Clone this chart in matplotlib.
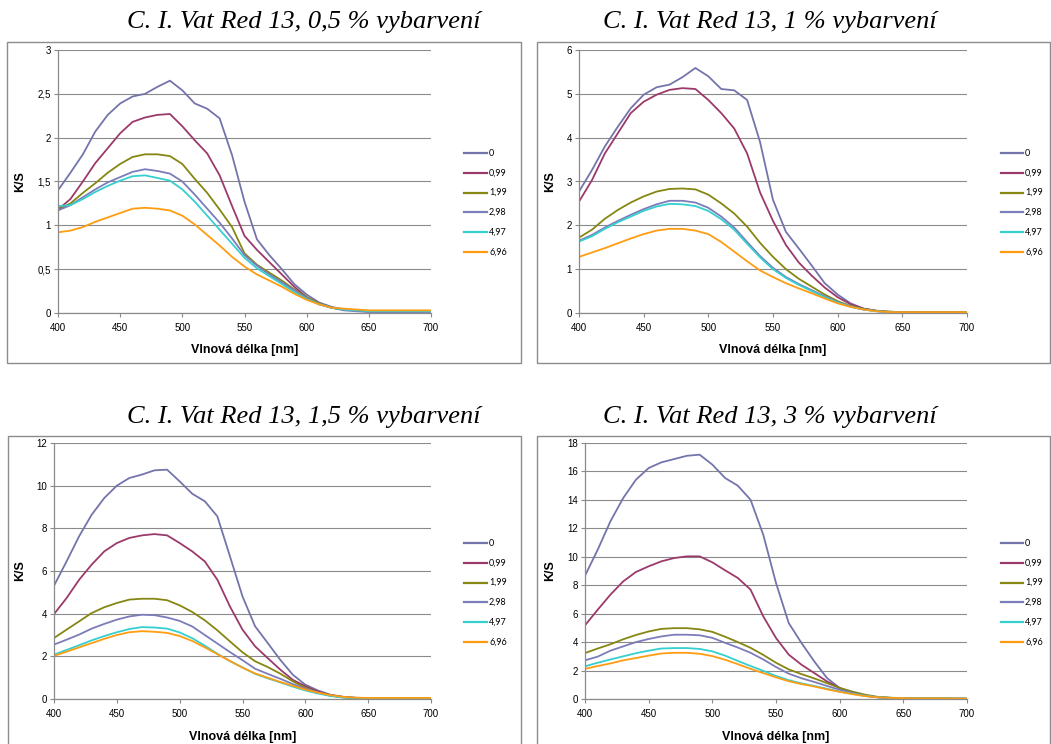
import matplotlib
matplotlib.use("Agg")
import matplotlib.pyplot as plt
from matplotlib.patches import Rectangle
from matplotlib.lines import Line2D
from matplotlib.ticker import FuncFormatter, MultipleLocator

W, H = 1051, 744

wavelength = list(range(400, 701, 10))
series_labels = ["0", "0,99", "1,99", "2,98", "4,97", "6,96"]
series_colors = ["#7474AC", "#9B3A6A", "#868613", "#7C7CBA", "#35CFCF", "#FF9C11"]

titles = [
    "C. I. Vat Red 13, 0,5 % vybarvení",
    "C. I. Vat Red 13, 1 % vybarvení",
    "C. I. Vat Red 13, 1,5 % vybarvení",
    "C. I. Vat Red 13, 3 % vybarvení",
]
y_max = [3, 6, 12, 18]
y_step = [0.5, 1, 2, 2]

# K/S spectra, 0,5 % dyeing
ks_05 = [
    [1.40, 1.60, 1.81, 2.07, 2.26, 2.39, 2.47, 2.50, 2.58, 2.65, 2.54, 2.39, 2.33, 2.22, 1.80, 1.27, 0.84, 0.66, 0.50, 0.33, 0.21, 0.12, 0.07, 0.04, 0.03, 0.02, 0.02, 0.02, 0.02, 0.02, 0.02],
    [1.18, 1.30, 1.50, 1.71, 1.88, 2.05, 2.18, 2.23, 2.26, 2.27, 2.13, 1.97, 1.82, 1.57, 1.22, 0.88, 0.72, 0.58, 0.44, 0.30, 0.18, 0.10, 0.06, 0.04, 0.03, 0.02, 0.02, 0.02, 0.02, 0.02, 0.02],
    [1.18, 1.25, 1.37, 1.48, 1.60, 1.70, 1.78, 1.81, 1.81, 1.79, 1.70, 1.53, 1.37, 1.18, 0.98, 0.68, 0.55, 0.46, 0.37, 0.27, 0.18, 0.11, 0.06, 0.04, 0.03, 0.02, 0.02, 0.02, 0.02, 0.02, 0.02],
    [1.17, 1.23, 1.32, 1.41, 1.49, 1.55, 1.61, 1.64, 1.62, 1.59, 1.50, 1.35, 1.19, 1.03, 0.85, 0.66, 0.54, 0.44, 0.35, 0.26, 0.17, 0.10, 0.06, 0.03, 0.02, 0.01, 0.01, 0.01, 0.01, 0.01, 0.01],
    [1.22, 1.23, 1.30, 1.38, 1.45, 1.51, 1.56, 1.57, 1.54, 1.51, 1.41, 1.27, 1.11, 0.95, 0.79, 0.63, 0.51, 0.42, 0.33, 0.24, 0.16, 0.10, 0.06, 0.04, 0.03, 0.02, 0.02, 0.02, 0.02, 0.02, 0.02],
    [0.92, 0.94, 0.98, 1.04, 1.09, 1.14, 1.19, 1.20, 1.19, 1.17, 1.11, 1.01, 0.89, 0.77, 0.64, 0.53, 0.44, 0.37, 0.30, 0.22, 0.15, 0.10, 0.06, 0.05, 0.04, 0.03, 0.03, 0.03, 0.03, 0.03, 0.03],
]

# K/S spectra, 1 % dyeing
ks_1 = [
    [2.77, 3.26, 3.80, 4.25, 4.67, 4.98, 5.15, 5.21, 5.38, 5.59, 5.40, 5.11, 5.08, 4.86, 3.90, 2.58, 1.85, 1.47, 1.08, 0.68, 0.42, 0.22, 0.10, 0.05, 0.03, 0.02, 0.02, 0.02, 0.02, 0.02, 0.02],
    [2.54, 3.03, 3.64, 4.10, 4.56, 4.82, 4.98, 5.09, 5.13, 5.11, 4.86, 4.56, 4.21, 3.64, 2.75, 2.10, 1.55, 1.15, 0.85, 0.58, 0.36, 0.20, 0.10, 0.05, 0.02, 0.02, 0.01, 0.01, 0.01, 0.01, 0.01],
    [1.72, 1.90, 2.15, 2.35, 2.52, 2.66, 2.77, 2.83, 2.84, 2.82, 2.70, 2.50, 2.27, 1.97, 1.60, 1.28, 1.00, 0.78, 0.60, 0.42, 0.27, 0.16, 0.09, 0.05, 0.03, 0.02, 0.02, 0.02, 0.02, 0.02, 0.02],
    [1.65, 1.78, 1.95, 2.10, 2.24, 2.37, 2.48, 2.56, 2.56, 2.52, 2.40, 2.20, 1.95, 1.62, 1.30, 1.03, 0.82, 0.66, 0.52, 0.38, 0.25, 0.15, 0.08, 0.04, 0.02, 0.01, 0.01, 0.01, 0.01, 0.01, 0.01],
    [1.63, 1.75, 1.92, 2.07, 2.20, 2.33, 2.43, 2.49, 2.48, 2.44, 2.33, 2.14, 1.90, 1.58, 1.27, 1.00, 0.80, 0.64, 0.50, 0.36, 0.24, 0.14, 0.08, 0.04, 0.02, 0.01, 0.01, 0.01, 0.01, 0.01, 0.01],
    [1.28, 1.38, 1.48, 1.59, 1.70, 1.80, 1.88, 1.92, 1.92, 1.88, 1.80, 1.62, 1.40, 1.18, 0.97, 0.82, 0.68, 0.56, 0.45, 0.33, 0.22, 0.14, 0.08, 0.04, 0.02, 0.02, 0.02, 0.02, 0.02, 0.02, 0.02],
]

# K/S spectra, 1,5 % dyeing
ks_15 = [
    [5.31, 6.45, 7.63, 8.64, 9.42, 10.00, 10.36, 10.52, 10.72, 10.75, 10.20, 9.62, 9.27, 8.56, 6.69, 4.81, 3.41, 2.63, 1.84, 1.14, 0.67, 0.40, 0.20, 0.10, 0.06, 0.04, 0.03, 0.03, 0.03, 0.03, 0.03],
    [3.98, 4.73, 5.59, 6.30, 6.92, 7.31, 7.55, 7.67, 7.73, 7.67, 7.31, 6.92, 6.45, 5.59, 4.34, 3.25, 2.47, 1.92, 1.38, 0.90, 0.60, 0.35, 0.18, 0.10, 0.05, 0.03, 0.03, 0.03, 0.03, 0.02, 0.00],
    [2.86, 3.25, 3.64, 4.03, 4.30, 4.50, 4.66, 4.70, 4.70, 4.63, 4.39, 4.08, 3.69, 3.22, 2.70, 2.19, 1.77, 1.50, 1.19, 0.83, 0.52, 0.30, 0.16, 0.08, 0.05, 0.04, 0.04, 0.04, 0.04, 0.04, 0.04],
    [2.55, 2.78, 3.02, 3.30, 3.52, 3.72, 3.87, 3.95, 3.93, 3.82, 3.66, 3.40, 3.00, 2.60, 2.20, 1.82, 1.42, 1.18, 0.95, 0.70, 0.48, 0.30, 0.16, 0.08, 0.05, 0.04, 0.04, 0.04, 0.04, 0.04, 0.04],
    [2.08, 2.30, 2.52, 2.75, 2.95, 3.13, 3.28, 3.37, 3.35, 3.30, 3.12, 2.85, 2.50, 2.12, 1.78, 1.48, 1.18, 0.97, 0.78, 0.58, 0.40, 0.26, 0.14, 0.07, 0.04, 0.03, 0.03, 0.03, 0.03, 0.03, 0.03],
    [2.02, 2.22, 2.42, 2.62, 2.82, 3.00, 3.13, 3.18, 3.15, 3.10, 2.95, 2.72, 2.42, 2.10, 1.78, 1.47, 1.20, 1.00, 0.80, 0.62, 0.44, 0.30, 0.18, 0.10, 0.06, 0.05, 0.05, 0.05, 0.05, 0.05, 0.05],
]

# K/S spectra, 3 % dyeing
ks_3 = [
    [8.67, 10.50, 12.50, 14.13, 15.42, 16.24, 16.64, 16.87, 17.10, 17.18, 16.48, 15.54, 15.00, 14.01, 11.55, 8.16, 5.34, 3.94, 2.65, 1.48, 0.77, 0.42, 0.22, 0.12, 0.08, 0.05, 0.04, 0.03, 0.03, 0.02, 0.02],
    [5.18, 6.28, 7.34, 8.27, 8.93, 9.33, 9.68, 9.91, 10.03, 10.03, 9.61, 9.05, 8.51, 7.69, 5.81, 4.29, 3.12, 2.41, 1.83, 1.24, 0.77, 0.45, 0.24, 0.12, 0.07, 0.05, 0.04, 0.03, 0.03, 0.02, 0.02],
    [3.23, 3.55, 3.85, 4.20, 4.50, 4.75, 4.93, 4.98, 4.98, 4.90, 4.72, 4.38, 4.00, 3.60, 3.10, 2.55, 2.08, 1.75, 1.45, 1.12, 0.78, 0.52, 0.30, 0.15, 0.09, 0.06, 0.05, 0.05, 0.05, 0.03, 0.02],
    [2.72, 2.98, 3.40, 3.70, 4.00, 4.22, 4.40, 4.52, 4.52, 4.48, 4.30, 3.95, 3.62, 3.25, 2.78, 2.25, 1.78, 1.46, 1.20, 0.92, 0.65, 0.42, 0.24, 0.12, 0.07, 0.05, 0.04, 0.03, 0.02, 0.01, 0.01],
    [2.30, 2.55, 2.78, 3.00, 3.22, 3.40, 3.55, 3.58, 3.58, 3.52, 3.35, 3.05, 2.68, 2.32, 1.98, 1.62, 1.32, 1.10, 0.92, 0.72, 0.52, 0.36, 0.22, 0.12, 0.08, 0.06, 0.05, 0.05, 0.05, 0.02, 0.02],
    [2.12, 2.32, 2.50, 2.72, 2.88, 3.05, 3.20, 3.25, 3.25, 3.18, 3.02, 2.76, 2.45, 2.12, 1.82, 1.52, 1.25, 1.05, 0.88, 0.68, 0.50, 0.34, 0.20, 0.12, 0.08, 0.06, 0.05, 0.05, 0.05, 0.03, 0.02],
]

panel_data = [ks_05, ks_1, ks_15, ks_3]

# layout in pixels: plot box (left, top, right, bottom), frame box, title centre,
# y-label x, x-label y, legend line x range and first row y
plot_boxes = [(58, 50, 431, 313), (579, 50, 967, 313), (54, 443, 431, 699), (585, 443, 967, 699)]
frame_boxes = [(7, 42, 521, 363), (537, 42, 1050, 363), (8, 436, 521, 760), (537, 436, 1050, 760)]
title_pos = [(304, 22), (770, 22), (304, 417), (770, 417)]
ylab_x = [20, 550, 20, 550]
xlab_y = [350, 350, 737, 737]
legend_x = [(464, 487), (1001, 1023), (464, 487), (1001, 1023)]
legend_y0 = [153, 153, 543, 543]
row_gap = 19.8

fig = plt.figure(figsize=(W / 100, H / 100), dpi=100)
fig.patch.set_facecolor("white")

def fx(px):
    return px / W

def fy(py):
    return 1 - py / H

def comma_fmt(v, _):
    s = f"{v:g}"
    return s.replace(".", ",")

grey = "#8a8a8a"

for i in range(4):
    l, t, r, b = plot_boxes[i]
    ax = fig.add_axes([fx(l), fy(b), fx(r - l), (b - t) / H])
    for k, vals in enumerate(panel_data[i]):
        ax.plot(wavelength, vals, color=series_colors[k], lw=1.3, solid_joinstyle="round")
    ax.set_xlim(400, 700)
    ax.set_ylim(0, y_max[i])
    ax.xaxis.set_major_locator(MultipleLocator(50))
    ax.yaxis.set_major_locator(MultipleLocator(y_step[i]))
    ax.yaxis.set_major_formatter(FuncFormatter(comma_fmt))
    ax.grid(axis="y", color=grey, lw=0.8)
    ax.set_axisbelow(True)
    for side in ("top", "right"):
        ax.spines[side].set_visible(False)
    for side in ("left", "bottom"):
        ax.spines[side].set_color(grey)
        ax.spines[side].set_linewidth(0.9)
    ax.tick_params(direction="out", length=3, width=0.8, color=grey, pad=2)
    for lab in ax.get_xticklabels() + ax.get_yticklabels():
        lab.set_fontfamily("Liberation Sans")
        lab.set_fontsize(7)
    ax.tick_params(axis="x", pad=4)

    fl, ft, fr, fb = frame_boxes[i]
    fig.patches.append(Rectangle((fx(fl), fy(fb)), fx(fr - fl), (fb - ft) / H,
                                 transform=fig.transFigure, fill=False,
                                 edgecolor="#8c8c8c", lw=1.0, zorder=0))

    tx, ty = title_pos[i]
    fig.text(fx(tx), fy(ty), titles[i], ha="center", va="center",
             family="Liberation Serif", style="italic", fontsize=19)
    fig.text(fx(ylab_x[i]), fy((t + b) / 2), "K/S", rotation=90, ha="center",
             va="center", family="Liberation Sans", weight="bold", fontsize=9)
    fig.text(fx((l + r) / 2), fy(xlab_y[i]), "Vlnová délka [nm]", ha="center",
             va="center", family="Liberation Sans", weight="bold", fontsize=9)

    x0, x1 = legend_x[i]
    for k, lab in enumerate(series_labels):
        yy = legend_y0[i] + k * row_gap
        fig.add_artist(Line2D([fx(x0), fx(x1)], [fy(yy), fy(yy)], color=series_colors[k],
                              lw=1.6, transform=fig.transFigure))
        fig.text(fx(x1 + 2), fy(yy), lab, ha="left", va="center",
                 family="Lato", fontsize=6.5)

fig.savefig("out.png", dpi=100)
